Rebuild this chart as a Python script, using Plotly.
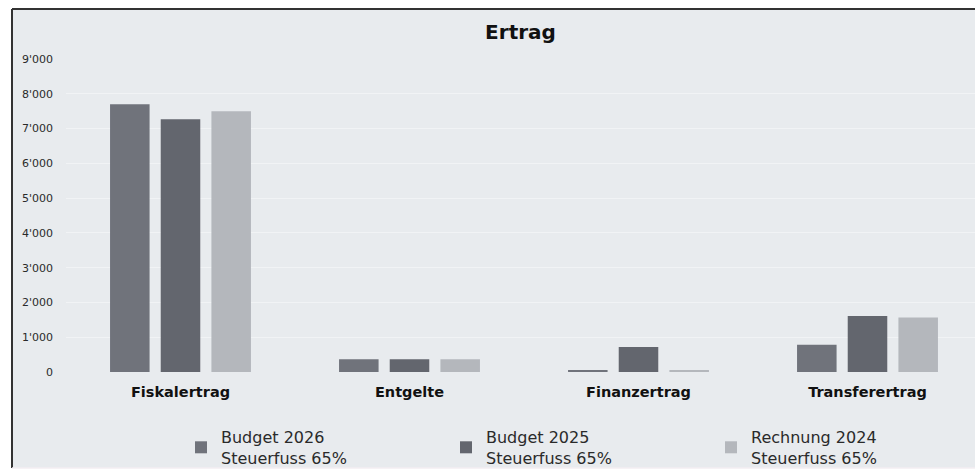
import plotly.graph_objects as go

categories = ["Fiskalertrag", "Entgelte", "Finanzertrag", "Transferertrag"]
series_names = ["Budget 2026<br>Steuerfuss 65%", "Budget 2025<br>Steuerfuss 65%", "Rechnung 2024<br>Steuerfuss 65%"]
budget_2026 = [7700, 370, 30, 780]
budget_2025 = [7270, 370, 720, 1610]
rechnung_2024 = [7500, 370, 30, 1570]
y_ticks = [0, 1000, 2000, 3000, 4000, 5000, 6000, 7000, 8000, 9000]

colors = ["#70737b", "#63666e", "#b4b7bc"]

fig = go.Figure()
for name, vals, col in zip(series_names, [budget_2026, budget_2025, rechnung_2024], colors):
    fig.add_trace(go.Bar(x=categories, y=vals, name=name, marker=dict(color=col, line=dict(width=0))))

W, H = 975, 472
L, R, T, B = 66, 0, 59, 100
pw, ph = W - L - R, H - T - B

def px(p):
    return (p - L) / pw

def py(q):
    return (H - B - q) / ph

fig.update_layout(
    width=W, height=H,
    margin=dict(l=L, r=R, t=T, b=B, autoexpand=False),
    paper_bgcolor="white",
    plot_bgcolor="rgba(0,0,0,0)",
    barmode="group",
    bargap=0.336,
    bargroupgap=0.22,
    separators=".'",
    title=dict(text="<b>Ertrag</b>", x=0.5, xref="paper", xanchor="center",
               y=1 - 32 / H, yanchor="middle",
               font=dict(family="DejaVu Sans", size=20, color="#111111")),
    xaxis=dict(range=[-0.5, -0.5 + pw / 229.0], showgrid=False, zeroline=False, showline=False,
               ticks="", tickfont=dict(family="DejaVu Sans", size=14.5, color="#111111", weight="bold"),
               ticklabelstandoff=9, fixedrange=True),
    yaxis=dict(range=[0, 9000], tickvals=y_ticks, tickformat=",d",
               showgrid=True, gridcolor="#f1f3f5", gridwidth=1, zeroline=False, showline=False,
               tickfont=dict(family="DejaVu Sans", size=11, color="#2a2a2a"),
               ticklabelstandoff=12, ticks=""),
    legend=dict(orientation="h", xref="container", yref="container",
                x=181 / W, xanchor="left", y=1 - 420 / H, yanchor="top",
                entrywidth=220, entrywidthmode="pixels", itemwidth=30,
                font=dict(family="DejaVu Sans", size=16, color="#2a2a2a"),
                bgcolor="rgba(0,0,0,0)"),
    shapes=[
        dict(type="rect", xref="paper", yref="paper", x0=px(12), x1=px(980), y0=py(468), y1=py(9),
             fillcolor="#e8ebee", line=dict(width=0), layer="below"),
        dict(type="line", xref="paper", yref="paper", x0=px(12), x1=px(980), y0=py(9), y1=py(9),
             line=dict(color="#333333", width=2), layer="below"),
        dict(type="line", xref="paper", yref="paper", x0=px(12), x1=px(12), y0=py(468), y1=py(9),
             line=dict(color="#333333", width=2), layer="below"),
        dict(type="line", xref="paper", yref="paper", x0=px(12), x1=px(980), y0=py(468), y1=py(468),
             line=dict(color="#f3eef2", width=1.5), layer="below"),
    ],
)

fig.write_html("out.html", config={"displayModeBar": False},
               post_script="document.body.style.margin='0';document.body.style.overflow='hidden';")
